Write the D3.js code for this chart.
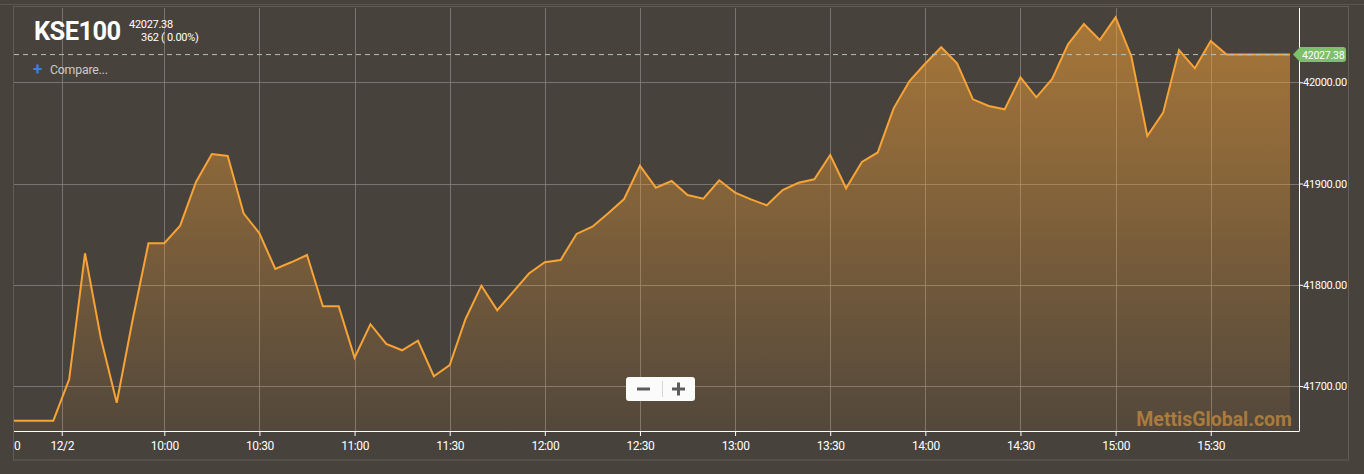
<!DOCTYPE html>
<html><head><meta charset="utf-8">
<script src="https://cdn.jsdelivr.net/npm/d3@7/dist/d3.min.js"></script>
<style>
html,body{margin:0;padding:0;background:#48423c;}
svg{display:block;}
text{font-family:Roboto,"Noto Sans",sans-serif;}
</style></head>
<body>
<svg id="c" width="1364" height="474"></svg>
<script>
// ---- data (5-minute index; index 0 = first point of 12/2 session, negatives = previous session) ----
const startIndex = -3;
const values = [
  41665.7, 41665.7, 41665.7, 41665.7,
  41706.6, 41831.1, 41747.1, 41683.5, 41765.2, 41841.0, 41841.0, 41858.4, 41901.5, 41929.2,
  41927.2, 41870.6, 41850.8, 41815.6, 41822.2, 41829.4, 41778.7, 41778.7, 41728.0, 41761.0,
  41741.5, 41735.3, 41744.7, 41709.6, 41720.7, 41766.2, 41799.1, 41774.8, 41792.9, 41811.1,
  41822.2, 41824.5, 41850.2, 41857.4, 41870.6, 41884.7, 41917.6, 41895.9, 41902.5, 41888.7,
  41885.0, 41903.2, 41891.0, 41884.4, 41878.5, 41893.6, 41900.8, 41904.2, 41928.2, 41895.3,
  41921.3, 41930.7, 41974.3, 42001.3, 42018.6, 42034.6, 42018.8, 41983.2, 41976.6, 41973.3,
  42004.9, 41985.2, 42003.3, 42037.5, 42057.6, 42041.8, 42064.2, 42025.3, 41947.0, 41970.0,
  42031.9, 42013.8, 42040.8, 42027.38, 42027.38, 42027.38, 42027.38, 42027.38
];
const xTickIndex = [0.53, 7, 13, 19, 25, 31, 37, 43, 49, 55, 61, 67, 73];
const xTickLabels = ["12/2","10:00","10:30","11:00","11:30","12:00","12:30","13:00","13:30","14:00","14:30","15:00","15:30"];
const clippedLabel = "0";
const yTicks = [41700, 41800, 41900, 42000];
const lastValue = 42027.38;
const title = "KSE100";
const changeText = "362 ( 0.00%)";

const points = values.map((v,i)=>({k:startIndex+i, v}));

const svg = d3.select("#c");
const L=14, R=1299, T=8, B=431, dataRight=1290;
const x = d3.scaleLinear().domain([-2.48, 78]).range([L, dataRight]);
const y = d3.scaleLinear().domain([41700, 42000]).range([386, 82.3]);

// frame
svg.append("line").attr("x1",0).attr("x2",1364).attr("y1",4.5).attr("y2",4.5).attr("stroke","#5c5650");
svg.append("rect").attr("x",13.5).attr("y",6.5).attr("width",1335).attr("height",453.5)
  .attr("fill","none").attr("stroke","#625c56");

const defs = svg.append("defs");
defs.append("clipPath").attr("id","plot").append("rect").attr("x",L).attr("y",T).attr("width",R-L).attr("height",B-T);
const g = defs.append("linearGradient").attr("id","fillg").attr("gradientUnits","userSpaceOnUse")
  .attr("x1",0).attr("x2",0).attr("y1",T).attr("y2",B);
g.append("stop").attr("offset","0").attr("stop-color","#f7a336").attr("stop-opacity",0.56);
g.append("stop").attr("offset","1").attr("stop-color","#f7a336").attr("stop-opacity",0.06);

// grid
const grid = svg.append("g").attr("stroke","#8b8681").attr("stroke-opacity",0.75).attr("shape-rendering","crispEdges");
grid.selectAll(".gx").data(xTickIndex).join("line")
  .attr("x1",d=>Math.round(x(d))+0.5).attr("x2",d=>Math.round(x(d))+0.5).attr("y1",T).attr("y2",B);
grid.selectAll(".gy").data(yTicks).join("line")
  .attr("x1",L).attr("x2",R).attr("y1",d=>Math.round(y(d))+0.5).attr("y2",d=>Math.round(y(d))+0.5);

const plot = svg.append("g").attr("clip-path","url(#plot)");
const area = d3.area().x(d=>x(d.k)).y0(B).y1(d=>y(d.v));
const line = d3.line().x(d=>x(d.k)).y(d=>y(d.v));
plot.append("path").datum(points).attr("d",area).attr("fill","url(#fillg)");
plot.append("path").datum(points).attr("d",line).attr("fill","none")
  .attr("stroke","#f7a336").attr("stroke-width",2).attr("stroke-linejoin","miter");

// last value dashed line
svg.append("line").attr("x1",L).attr("x2",dataRight).attr("y1",y(lastValue)).attr("y2",y(lastValue))
  .attr("stroke","#b9c0b2").attr("stroke-width",1).attr("stroke-dasharray","5,4");

// watermark
svg.append("text").attr("x",1292).attr("y",426).attr("text-anchor","end")
  .attr("font-size",19.5).attr("font-weight","bold").attr("fill","#a97b3e")
  .text("MettisGlobal.com");

// axes
const xAxis = d3.axisBottom(x).tickValues(xTickIndex).tickFormat((d,i)=>xTickLabels[i]).tickSize(5).tickSizeOuter(0);
const xa = svg.append("g").attr("transform",`translate(0,${B})`).call(xAxis);
xa.select(".domain").attr("stroke","#fff").attr("d",`M${L},0.5H${R}`);
xa.selectAll(".tick line").attr("stroke","#fff");
xa.selectAll(".tick text").attr("fill","#fff").attr("font-size",12).attr("dy","0.95em").attr("letter-spacing","-0.4")
  .attr("font-family","Roboto");
svg.append("text").attr("x",L).attr("y",450).attr("fill","#fff").attr("font-size",12).text(clippedLabel);

const yAxis = d3.axisRight(y).tickValues(yTicks).tickFormat(d3.format(".2f")).tickSize(4).tickSizeOuter(0);
const ya = svg.append("g").attr("transform",`translate(${R},0)`).call(yAxis);
ya.select(".domain").attr("stroke","#fff").attr("d",`M0.5,${T}V${B+0.5}`);
ya.selectAll(".tick line").attr("stroke","#fff");
ya.selectAll(".tick text").attr("fill","#fff").attr("font-size",11).attr("x",4).attr("letter-spacing","-0.3")
  .attr("font-family","Roboto");

// last value label
const ly = y(lastValue);
svg.append("path").attr("d",`M1293,${ly} L1300,${ly-7.5} H1343 a3,3 0 0 1 3,3 V${ly+4.5} a3,3 0 0 1 -3,3 H1300 Z`)
  .attr("fill","#7dbf6a");
svg.append("text").attr("x",1302).attr("y",ly+4).attr("fill","#fff").attr("font-size",10.5)
  .attr("letter-spacing","-0.2").text(d3.format(".2f")(lastValue));

// title block
svg.append("text").attr("x",34).attr("y",40).attr("fill","#fff").attr("font-size",25.5).attr("font-weight","bold")
  .attr("letter-spacing","-0.6").text(title);
svg.append("text").attr("x",129).attr("y",28).attr("fill","#fff").attr("font-size",11).attr("letter-spacing","-0.3")
  .text(d3.format(".2f")(lastValue));
svg.append("text").attr("x",141).attr("y",41).attr("fill","#fff").attr("font-size",11).attr("letter-spacing","-0.3")
  .text(changeText);
svg.append("text").attr("x",33).attr("y",75).attr("fill","#3d7fe0").attr("font-size",17).attr("font-weight","bold").text("+");
svg.append("text").attr("x",50).attr("y",74).attr("fill","#cfcac4").attr("font-size",12.3).attr("letter-spacing","-0.2").text("Compare...");

// zoom buttons
const zb = svg.append("g");
zb.append("rect").attr("x",626).attr("y",377).attr("width",69).attr("height",24).attr("rx",3).attr("fill","#fbfbfb");
zb.append("line").attr("x1",662.5).attr("x2",662.5).attr("y1",381).attr("y2",397).attr("stroke","#d5d5d5");
zb.append("rect").attr("x",637).attr("y",387.5).attr("width",13).attr("height",3).attr("fill","#5c5c5c");
zb.append("rect").attr("x",672).attr("y",387.5).attr("width",13).attr("height",3).attr("fill","#5c5c5c");
zb.append("rect").attr("x",677).attr("y",382.5).attr("width",3).attr("height",13).attr("fill","#5c5c5c");
</script>
</body></html>
